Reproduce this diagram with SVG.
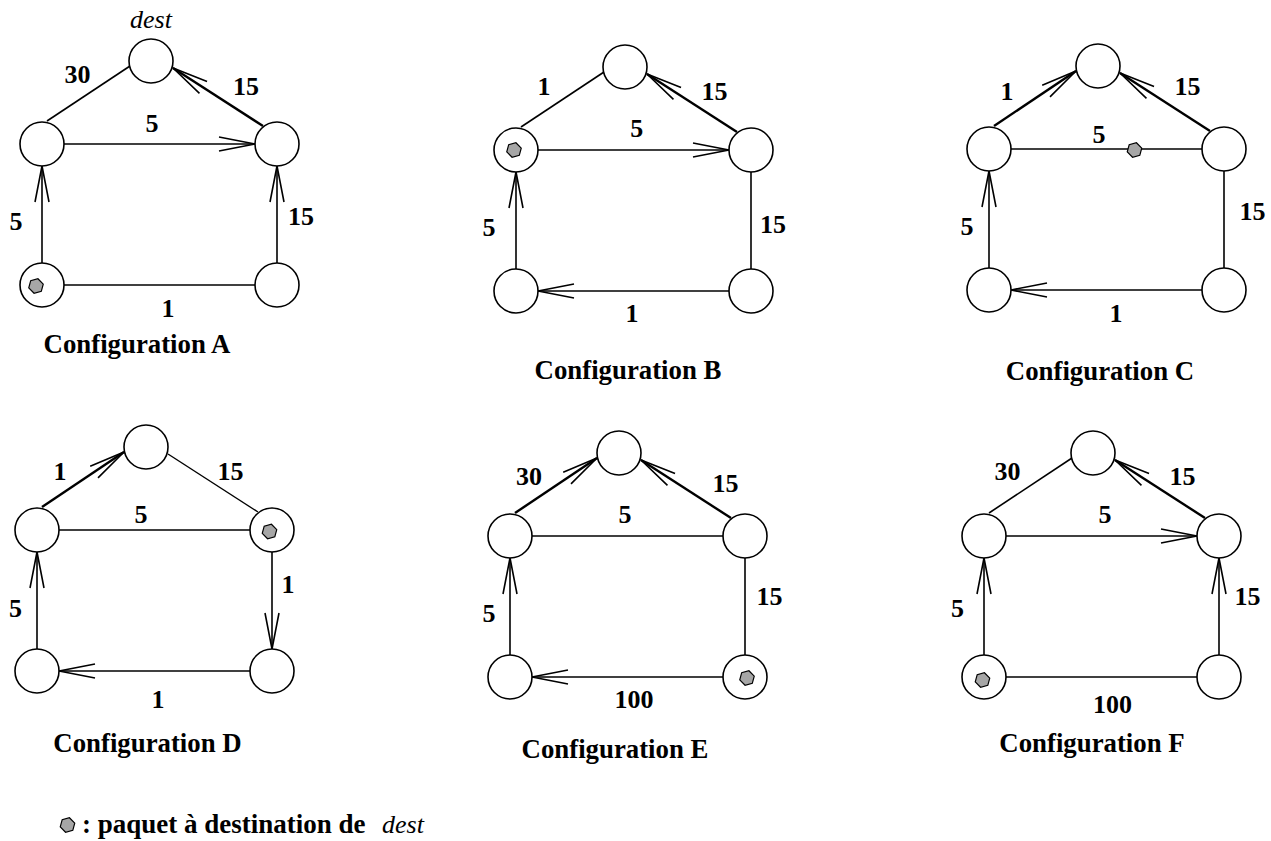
<svg xmlns="http://www.w3.org/2000/svg" xmlns:xlink="http://www.w3.org/1999/xlink" width="1271" height="841" viewBox="0 0 1271 841">
  <style>
    .node { fill: #fff; stroke: #000; stroke-width: 1.6; }
    .edge { fill: none; stroke: #000; stroke-width: 1.6; }
    .edge.thin { stroke-width: 1.4; }
    .edge.heavy { stroke-width: 2.4; }
    .arrow { marker-end: url(#head); }
    .pkt { fill: #a6a6a6; stroke: #000; stroke-width: 1.2; }
    .lbl { font-family: "Liberation Serif", "Times New Roman", serif; font-weight: bold; font-size: 26px; text-anchor: middle; fill: #000; }
    .cap { font-size: 26.8px; }
    .it { font-family: "Liberation Serif", "Times New Roman", serif; font-style: italic; font-size: 26px; fill: #000; }
    .leg { font-family: "Liberation Serif", "Times New Roman", serif; font-weight: bold; font-size: 27px; fill: #000; }
  </style>
  <defs>
    <!-- open, narrow arrowhead drawn as two barbs -->
    <marker id="head" markerUnits="userSpaceOnUse" markerWidth="40" markerHeight="16" refX="36" refY="8" orient="auto" overflow="visible">
      <path d="M0,1 L36,8 L0,15" fill="none" stroke="#000" stroke-width="1.6" stroke-linejoin="round"/>
    </marker>
    <!-- packet symbol -->
    <polygon id="packet" class="pkt" points="1.94,-7.24 7.24,-1.94 5.30,5.30 -1.94,7.24 -7.24,1.94 -5.30,-5.30"/>
  </defs>

  <rect width="1271" height="841" fill="#fff"/>

  <!-- ===== Configuration A ===== -->
  <g id="configA" transform="translate(42,144)">
    <g id="A-connectors">
      <line class="edge" x1="5" y1="-23" x2="88" y2="-78"/>
      <line class="edge heavy arrow" x1="221" y1="-18" x2="131" y2="-76"/>
      <line class="edge arrow" x1="22" y1="0" x2="213" y2="0"/>
      <line class="edge arrow" x1="0" y1="119" x2="0" y2="22"/>
      <line class="edge arrow" x1="235" y1="119" x2="235" y2="22"/>
      <line class="edge" x1="22" y1="141" x2="213" y2="141"/>
    </g>
    <g id="A-dest"><circle class="node" cx="109" cy="-83" r="22"/></g>
    <g id="A-left"><circle class="node" cx="0" cy="0" r="22"/></g>
    <g id="A-right"><circle class="node" cx="235" cy="0" r="22"/></g>
    <g id="A-bottomleft"><circle class="node" cx="0" cy="141" r="22"/><use xlink:href="#packet" x="-6" y="142"/></g>
    <g id="A-bottomright"><circle class="node" cx="235" cy="141" r="22"/></g>
  </g>
  <g id="A-labels">
    <text class="it" x="151" y="28" text-anchor="middle">dest</text>
    <text class="lbl" x="77.5" y="83">30</text>
    <text class="lbl" x="246" y="95">15</text>
    <text class="lbl" x="152" y="132">5</text>
    <text class="lbl" x="16" y="230">5</text>
    <text class="lbl" x="301" y="225">15</text>
    <text class="lbl" x="168" y="317">1</text>
    <text class="lbl cap" x="137" y="353">Configuration A</text>
  </g>

  <!-- ===== Configuration B ===== -->
  <g id="configB" transform="translate(516,150)">
    <g id="B-connectors">
      <line class="edge" x1="5" y1="-23" x2="88" y2="-78"/>
      <line class="edge heavy arrow" x1="221" y1="-18" x2="131" y2="-76"/>
      <line class="edge arrow" x1="22" y1="0" x2="213" y2="0"/>
      <line class="edge arrow" x1="0" y1="119" x2="0" y2="22"/>
      <line class="edge" x1="235" y1="22" x2="235" y2="119"/>
      <line class="edge arrow" x1="213" y1="141" x2="22" y2="141"/>
    </g>
    <g id="B-dest"><circle class="node" cx="109" cy="-83" r="22"/></g>
    <g id="B-left"><circle class="node" cx="0" cy="0" r="22"/><use xlink:href="#packet" x="-2" y="0"/></g>
    <g id="B-right"><circle class="node" cx="235" cy="0" r="22"/></g>
    <g id="B-bottomleft"><circle class="node" cx="0" cy="141" r="22"/></g>
    <g id="B-bottomright"><circle class="node" cx="235" cy="141" r="22"/></g>
  </g>
  <g id="B-labels">
    <text class="lbl" x="544" y="95">1</text>
    <text class="lbl" x="714.5" y="100">15</text>
    <text class="lbl" x="636.7" y="137">5</text>
    <text class="lbl" x="489" y="235.7">5</text>
    <text class="lbl" x="773" y="233">15</text>
    <text class="lbl" x="632" y="321.7">1</text>
    <text class="lbl cap" x="628" y="379">Configuration B</text>
  </g>

  <!-- ===== Configuration C ===== -->
  <g id="configC" transform="translate(989,149)">
    <g id="C-connectors">
      <line class="edge heavy arrow" x1="5" y1="-23" x2="87" y2="-78"/>
      <line class="edge heavy arrow" x1="221" y1="-18" x2="131" y2="-76"/>
      <line class="edge" x1="22" y1="0" x2="213" y2="0"/>
      <line class="edge arrow" x1="0" y1="119" x2="0" y2="22"/>
      <line class="edge" x1="235" y1="22" x2="235" y2="119"/>
      <line class="edge arrow" x1="213" y1="141" x2="22" y2="141"/>
      <use xlink:href="#packet" x="145.5" y="1"/>
    </g>
    <g id="C-dest"><circle class="node" cx="109" cy="-83" r="22"/></g>
    <g id="C-left"><circle class="node" cx="0" cy="0" r="22"/></g>
    <g id="C-right"><circle class="node" cx="235" cy="0" r="22"/></g>
    <g id="C-bottomleft"><circle class="node" cx="0" cy="141" r="22"/></g>
    <g id="C-bottomright"><circle class="node" cx="235" cy="141" r="22"/></g>
  </g>
  <g id="C-labels">
    <text class="lbl" x="1007" y="100">1</text>
    <text class="lbl" x="1187.5" y="95">15</text>
    <text class="lbl" x="1099" y="143">5</text>
    <text class="lbl" x="967" y="235">5</text>
    <text class="lbl" x="1252.5" y="220">15</text>
    <text class="lbl" x="1116" y="321.7">1</text>
    <text class="lbl cap" x="1100" y="380">Configuration C</text>
  </g>

  <!-- ===== Configuration D ===== -->
  <g id="configD" transform="translate(37,530)">
    <g id="D-connectors">
      <line class="edge heavy arrow" x1="5" y1="-23" x2="87" y2="-78"/>
      <line class="edge thin" x1="131" y1="-76" x2="221" y2="-18"/>
      <line class="edge" x1="22" y1="0" x2="213" y2="0"/>
      <line class="edge arrow" x1="235" y1="22" x2="235" y2="119"/>
      <line class="edge arrow" x1="213" y1="141" x2="22" y2="141"/>
      <line class="edge arrow" x1="0" y1="119" x2="0" y2="22"/>
    </g>
    <g id="D-dest"><circle class="node" cx="109" cy="-83" r="22"/></g>
    <g id="D-left"><circle class="node" cx="0" cy="0" r="22"/></g>
    <g id="D-right"><circle class="node" cx="235" cy="0" r="22"/><use xlink:href="#packet" x="232.5" y="1.5"/></g>
    <g id="D-bottomleft"><circle class="node" cx="0" cy="141" r="22"/></g>
    <g id="D-bottomright"><circle class="node" cx="235" cy="141" r="22"/></g>
  </g>
  <g id="D-labels">
    <text class="lbl" x="60" y="480">1</text>
    <text class="lbl" x="230.5" y="480">15</text>
    <text class="lbl" x="141" y="523">5</text>
    <text class="lbl" x="15.5" y="616.7">5</text>
    <text class="lbl" x="288" y="593">1</text>
    <text class="lbl" x="158" y="708">1</text>
    <text class="lbl cap" x="147.5" y="751.7">Configuration D</text>
  </g>

  <!-- ===== Configuration E ===== -->
  <g id="configE" transform="translate(510,536)">
    <g id="E-connectors">
      <line class="edge heavy arrow" x1="5" y1="-23" x2="87" y2="-78"/>
      <line class="edge heavy arrow" x1="221" y1="-18" x2="131" y2="-76"/>
      <line class="edge" x1="22" y1="0" x2="213" y2="0"/>
      <line class="edge" x1="235" y1="22" x2="235" y2="119"/>
      <line class="edge arrow" x1="213" y1="141" x2="22" y2="141"/>
      <line class="edge arrow" x1="0" y1="119" x2="0" y2="22"/>
    </g>
    <g id="E-dest"><circle class="node" cx="109" cy="-83" r="22"/></g>
    <g id="E-left"><circle class="node" cx="0" cy="0" r="22"/></g>
    <g id="E-right"><circle class="node" cx="235" cy="0" r="22"/></g>
    <g id="E-bottomleft"><circle class="node" cx="0" cy="141" r="22"/></g>
    <g id="E-bottomright"><circle class="node" cx="235" cy="141" r="22"/><use xlink:href="#packet" x="237" y="142"/></g>
  </g>
  <g id="E-labels">
    <text class="lbl" x="529" y="485">30</text>
    <text class="lbl" x="725.5" y="491.7">15</text>
    <text class="lbl" x="625" y="523">5</text>
    <text class="lbl" x="489" y="621.7">5</text>
    <text class="lbl" x="769.5" y="605">15</text>
    <text class="lbl" x="634" y="708">100</text>
    <text class="lbl cap" x="615" y="758">Configuration E</text>
  </g>

  <!-- ===== Configuration F ===== -->
  <g id="configF" transform="translate(984,536)">
    <g id="F-connectors">
      <line class="edge" x1="5" y1="-23" x2="88" y2="-78"/>
      <line class="edge heavy arrow" x1="221" y1="-18" x2="131" y2="-76"/>
      <line class="edge arrow" x1="22" y1="0" x2="213" y2="0"/>
      <line class="edge arrow" x1="0" y1="119" x2="0" y2="22"/>
      <line class="edge arrow" x1="235" y1="119" x2="235" y2="22"/>
      <line class="edge" x1="22" y1="141" x2="213" y2="141"/>
    </g>
    <g id="F-dest"><circle class="node" cx="109" cy="-83" r="22"/></g>
    <g id="F-left"><circle class="node" cx="0" cy="0" r="22"/></g>
    <g id="F-right"><circle class="node" cx="235" cy="0" r="22"/></g>
    <g id="F-bottomleft"><circle class="node" cx="0" cy="141" r="22"/><use xlink:href="#packet" x="-1.5" y="144"/></g>
    <g id="F-bottomright"><circle class="node" cx="235" cy="141" r="22"/></g>
  </g>
  <g id="F-labels">
    <text class="lbl" x="1007.5" y="480">30</text>
    <text class="lbl" x="1182.5" y="485">15</text>
    <text class="lbl" x="1105" y="522.7">5</text>
    <text class="lbl" x="957.5" y="616.7">5</text>
    <text class="lbl" x="1247.5" y="605">15</text>
    <text class="lbl" x="1112.5" y="713">100</text>
    <text class="lbl cap" x="1092" y="751.7">Configuration F</text>
  </g>

  <!-- ===== Legend ===== -->
  <g id="legend">
    <use xlink:href="#packet" x="67.5" y="825"/>
    <text class="leg" x="82" y="833">: paquet à destination de</text>
    <text class="it" x="382" y="833">dest</text>
  </g>
</svg>
